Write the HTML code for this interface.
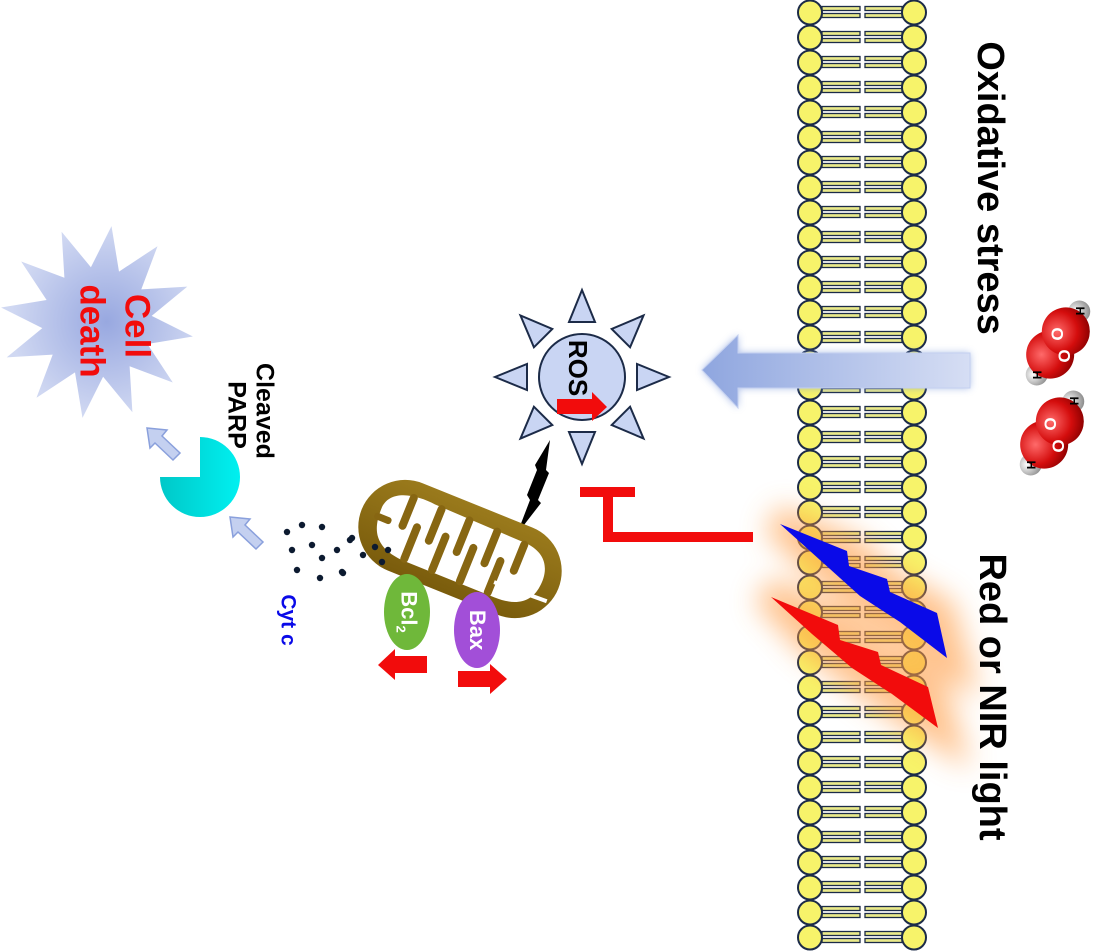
<!DOCTYPE html>
<html><head><meta charset="utf-8"><style>
html,body{margin:0;padding:0;background:#fff;}
#c{position:relative;width:1104px;height:952px;overflow:hidden;font-family:"Liberation Sans",sans-serif;}
.t{position:absolute;transform:translate(-50%,-50%) rotate(90deg);white-space:nowrap;font-weight:bold;line-height:1;}
svg{position:absolute;left:0;top:0;}
</style></head><body><div id="c">
<svg width="1104" height="952" viewBox="0 0 1104 952">
<defs>
<filter id="blur" x="-50%" y="-50%" width="200%" height="200%"><feGaussianBlur stdDeviation="14"/></filter>
<filter id="sblur" x="-50%" y="-50%" width="200%" height="200%"><feGaussianBlur stdDeviation="4"/></filter>
<radialGradient id="star" cx="0.55" cy="0.5" r="0.5"><stop offset="0" stop-color="#98a8e0"/><stop offset="1" stop-color="#d0d8f2"/></radialGradient>
<linearGradient id="arr" x1="0" x2="1" y1="0" y2="0"><stop offset="0" stop-color="#8fa6df"/><stop offset="1" stop-color="#d6def4"/></linearGradient>
<radialGradient id="ox" cx="0.4" cy="0.35" r="0.7"><stop offset="0" stop-color="#ff6a6a"/><stop offset="0.6" stop-color="#d40d0d"/><stop offset="1" stop-color="#8a0000"/></radialGradient>
<radialGradient id="hy" cx="0.4" cy="0.35" r="0.7"><stop offset="0" stop-color="#fff"/><stop offset="1" stop-color="#888"/></radialGradient>
<linearGradient id="pac" x1="0" x2="1"><stop offset="0" stop-color="#00c8c8"/><stop offset="1" stop-color="#00f0f0"/></linearGradient>
<linearGradient id="mito" x1="0" x2="0" y1="0" y2="1"><stop offset="0" stop-color="#9a7a1c"/><stop offset="1" stop-color="#7a5c0c"/></linearGradient>
</defs>
<g id="mem"></g>
<g filter="url(#blur)" opacity="0.6">
<polygon points="775,520 850,550 890,585 940,612 955,665 900,630 820,565" fill="#ff9a40" stroke="#ff9a40" stroke-width="30"/>
<polygon points="766,592 840,625 880,660 930,685 945,735 890,700 810,640" fill="#ff9a40" stroke="#ff9a40" stroke-width="30"/>
</g>
<polygon points="780,524 847,551 849,566 887,579 890,592 937,613 947,658 900,622 860,596 820,560" fill="#0a0ae8"/>
<polygon points="771,597 838,625 840,640 878,652 881,665 928,687 938,728 892,694 852,668 812,634" fill="#f20c0c"/>
<g filter="url(#sblur)" opacity="0.6"><polygon points="702,370 738,335 738,353 970,353 970,388 738,388 738,408" fill="#6f8fd8"/></g>
<polygon points="702,370 738,335 738,353 970,353 970,388 738,388 738,408" fill="url(#arr)" stroke="#c4d0f0" stroke-width="1"/>
<rect x="580" y="487" width="55" height="10" fill="#f20c0c"/>
<rect x="603" y="487" width="10" height="55" fill="#f20c0c"/>
<rect x="603" y="532" width="150" height="10" fill="#f20c0c"/>
<g transform="translate(582,377)" fill="#c9d5f3" stroke="#1c2b48" stroke-width="2">
<g id="tri"><polygon points="0,-87 -13,-55 13,-55"/></g>
<use href="#tri" transform="rotate(45)"/><use href="#tri" transform="rotate(90)"/><use href="#tri" transform="rotate(135)"/>
<use href="#tri" transform="rotate(180)"/><use href="#tri" transform="rotate(225)"/><use href="#tri" transform="rotate(270)"/><use href="#tri" transform="rotate(315)"/>
<circle r="43"/>
</g>
<polygon points="557,399 592,399 592,392 607,407 592,421 592,414 557,414" fill="#f20c0c"/>
<polygon points="517,534 530,500 527,495 537,470 535,465 550,440 546,470 549,473 538,500 541,503" fill="#000"/>
<g transform="translate(460,549) rotate(22)">
<rect x="-106" y="-47" width="212" height="94" rx="47" fill="url(#mito)"/>
<path d="M-88,-8 C-88,-30 -60,-34 -40,-32 L60,-30 C85,-28 90,-10 88,5 C86,25 70,32 50,32 L-50,32 C-80,30 -88,15 -88,-8 Z" fill="#fff"/>
<g fill="#876612">
<rect x="-66" y="-34" width="8" height="38" rx="4"/><rect x="-36" y="-34" width="8" height="42" rx="4"/><rect x="-6" y="-34" width="8" height="42" rx="4"/><rect x="24" y="-34" width="8" height="42" rx="4"/><rect x="54" y="-32" width="8" height="36" rx="4"/>
<rect x="-52" y="-8" width="8" height="42" rx="4"/><rect x="-22" y="-10" width="8" height="44" rx="4"/><rect x="8" y="-10" width="8" height="44" rx="4"/><rect x="38" y="-8" width="8" height="42" rx="4"/>
<rect x="-92" y="-3" width="18" height="7" rx="3"/>
</g>
<path d="M44,18 L100,16" stroke="#fff" stroke-width="4"/>
</g>
<ellipse cx="407" cy="612" rx="23" ry="38" fill="#6fb83a"/>
<ellipse cx="477" cy="630" rx="23" ry="38" fill="#a24fd8"/>
<polygon points="427,656 395,656 395,649 378,665 395,680 395,673 427,673" fill="#f20c0c"/>
<polygon points="458,671 490,671 490,664 507,679 490,694 490,687 458,687" fill="#f20c0c"/>
<g fill="#0c1a30">
<circle cx="287" cy="532" r="3.2"/><circle cx="302" cy="525" r="3.2"/><circle cx="322" cy="527" r="3.2"/><circle cx="350" cy="540" r="3.2"/>
<circle cx="292" cy="550" r="3.2"/><circle cx="312" cy="545" r="3.2"/><circle cx="337" cy="550" r="3.2"/><circle cx="322" cy="558" r="3.2"/>
<circle cx="297" cy="570" r="3.2"/><circle cx="320" cy="578" r="3.2"/><circle cx="342" cy="572" r="3.2"/><circle cx="352" cy="538" r="3.2"/>
<circle cx="375" cy="547" r="3.2"/><circle cx="363" cy="555" r="3.2"/><circle cx="388" cy="550" r="3.2"/><circle cx="382" cy="562" r="3.2"/><circle cx="343" cy="573" r="3.2"/>
</g>
<path d="M200,477 L160,477 A40,40 0 1 0 200,437 Z" fill="url(#pac)"/>
<g fill="#c4d0f0" stroke="#8aa0dc" stroke-width="1.5">
<polygon points="147,428 167,430 162,436 180,453 173,460 155,443 150,448"/>
<polygon points="230,517 250,519 245,525 263,542 256,549 238,532 233,537"/>
</g>
<polygon id="cd" fill="url(#star)"/>
<g transform="translate(1058,343) rotate(-56)">
<circle cx="-38" cy="0" r="11" fill="url(#hy)"/><circle cx="38" cy="0" r="11" fill="url(#hy)"/>
<circle cx="-14" cy="0" r="24" fill="url(#ox)"/><circle cx="14" cy="0" r="24" fill="url(#ox)"/>
</g>
<g transform="translate(1052,433) rotate(-56)">
<circle cx="-38" cy="0" r="11" fill="url(#hy)"/><circle cx="38" cy="0" r="11" fill="url(#hy)"/>
<circle cx="-14" cy="0" r="24" fill="url(#ox)"/><circle cx="14" cy="0" r="24" fill="url(#ox)"/>
</g>
</svg>
<div class="t" style="left:990px;top:188px;font-size:38px;color:#000">Oxidative stress</div>
<div class="t" style="left:992px;top:697px;font-size:38px;color:#000">Red or NIR light</div>
<div class="t" style="left:578px;top:368px;font-size:26px;color:#000">ROS</div>
<div class="t" style="left:137px;top:326px;font-size:35px;color:#f20c0c">Cell</div>
<div class="t" style="left:92px;top:331px;font-size:35px;color:#f20c0c">death</div>
<div class="t" style="left:264px;top:411px;font-size:25px;color:#000">Cleaved</div>
<div class="t" style="left:236px;top:415px;font-size:25px;color:#000">PARP</div>
<div class="t" style="left:288px;top:620px;font-size:21px;color:#0a0ae8">Cyt c</div>
<div class="t" style="left:407px;top:612px;font-size:22px;color:#fff">Bcl<sub style="font-size:13px">2</sub></div>
<div class="t" style="left:477px;top:630px;font-size:22px;color:#fff">Bax</div>
<div class="t" style="left:1057px;top:334px;font-size:17px;color:#fff">O</div>
<div class="t" style="left:1064px;top:356px;font-size:17px;color:#fff">O</div>
<div class="t" style="left:1050px;top:424px;font-size:17px;color:#fff">O</div>
<div class="t" style="left:1058px;top:446px;font-size:17px;color:#fff">O</div>
<div class="t" style="left:1080px;top:311px;font-size:12px;color:#000">H</div>
<div class="t" style="left:1037px;top:375px;font-size:12px;color:#000">H</div>
<div class="t" style="left:1074px;top:401px;font-size:12px;color:#000">H</div>
<div class="t" style="left:1031px;top:465px;font-size:12px;color:#000">H</div>
</div>
<script>
var ns="http://www.w3.org/2000/svg",g=document.getElementById("mem");
function el(n,a){var e=document.createElementNS(ns,n);for(var k in a)e.setAttribute(k,a[k]);g.appendChild(e);}
for(var k=0;k<38;k++){var y=12.5+25*k;
 [[822,38],[865,37]].forEach(function(p){
  el("rect",{x:p[0],y:y-6,width:p[1],height:4,fill:"#eaea8a",stroke:"#1c2b48","stroke-width":1.3});
  el("rect",{x:p[0],y:y+1,width:p[1],height:4,fill:"#eaea8a",stroke:"#1c2b48","stroke-width":1.3});
 });
 el("circle",{cx:810,cy:y,r:12,fill:"#f7f36a",stroke:"#1c2b48","stroke-width":2});
 el("circle",{cx:914,cy:y,r:12,fill:"#f7f36a",stroke:"#1c2b48","stroke-width":2});
}
var pts=[],cx=97,cy=322,n=12;
for(var i=0;i<2*n;i++){var a=Math.PI*i/n-Math.PI/2+0.15,r=i%2==0?97:55;pts.push((cx+r*Math.cos(a)).toFixed(1)+","+(cy+r*Math.sin(a)).toFixed(1));}
document.getElementById("cd").setAttribute("points",pts.join(" "));
</script>
</body></html>
